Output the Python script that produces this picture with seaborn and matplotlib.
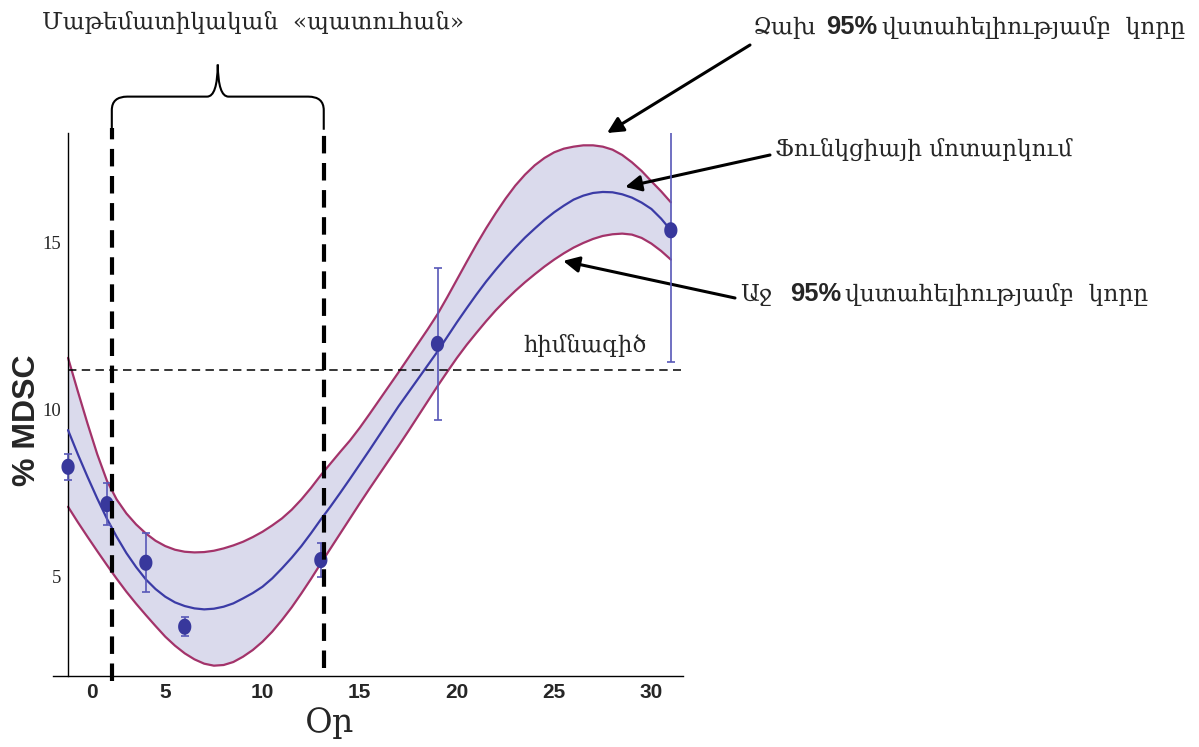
import matplotlib
matplotlib.use("Agg")
import matplotlib.pyplot as plt
import matplotlib.transforms as mtransforms
from matplotlib.path import Path
from matplotlib.patches import PathPatch
from matplotlib.ticker import MultipleLocator
import numpy as np
import pandas as pd
import seaborn as sns

# ---- measured data -------------------------------------------------------
days = [0, 2, 4, 6, 13, 19, 31]
mdsc_mean = [8.28, 7.16, 5.40, 3.48, 5.48, 11.97, 15.38]
mdsc_err = [0.39, 0.64, 0.89, 0.28, 0.51, 2.29, 3.96]

# ---- fitted curve and its 95% confidence limits (every half day) ---------
curve_day = [d / 2 for d in range(63)]
fit_curve = [9.38, 8.66, 7.98, 7.33, 6.72, 6.18, 5.69, 5.27, 4.90, 4.61,
             4.38, 4.21, 4.10, 4.03, 4.00, 4.02, 4.08, 4.18, 4.33, 4.49,
             4.68, 4.93, 5.23, 5.55, 5.90, 6.29, 6.70, 7.09, 7.50, 7.92,
             8.35, 8.78, 9.22, 9.66, 10.10, 10.51, 10.92, 11.33, 11.74, 12.18,
             12.62, 13.04, 13.45, 13.84, 14.20, 14.54, 14.86, 15.16, 15.43, 15.69,
             15.92, 16.12, 16.30, 16.42, 16.50, 16.53, 16.52, 16.46, 16.36, 16.21,
             16.02, 15.73, 15.38]
upper_curve = [11.55, 10.55, 9.58, 8.66, 7.86, 7.30, 6.88, 6.55, 6.28, 6.06,
               5.90, 5.79, 5.73, 5.71, 5.72, 5.76, 5.83, 5.92, 6.03, 6.17,
               6.33, 6.52, 6.73, 6.99, 7.30, 7.65, 8.03, 8.38, 8.73, 9.07,
               9.45, 9.86, 10.28, 10.70, 11.12, 11.55, 11.98, 12.41, 12.86, 13.37,
               13.90, 14.43, 14.95, 15.44, 15.90, 16.33, 16.72, 17.05, 17.33, 17.55,
               17.72, 17.83, 17.89, 17.93, 17.93, 17.89, 17.80, 17.64, 17.42, 17.16,
               16.85, 16.55, 16.22]
lower_curve = [7.08, 6.62, 6.18, 5.75, 5.33, 4.92, 4.53, 4.17, 3.83, 3.50,
               3.18, 2.91, 2.68, 2.50, 2.37, 2.31, 2.33, 2.42, 2.58, 2.78,
               3.03, 3.33, 3.68, 4.06, 4.48, 4.92, 5.38, 5.83, 6.28, 6.73,
               7.18, 7.62, 8.05, 8.48, 8.91, 9.35, 9.80, 10.25, 10.70, 11.13,
               11.55, 11.94, 12.30, 12.65, 12.98, 13.28, 13.56, 13.82, 14.06, 14.29,
               14.50, 14.69, 14.86, 15.00, 15.12, 15.21, 15.26, 15.28, 15.25, 15.15,
               14.98, 14.76, 14.50]

baseline = 11.18               # baseline MDSC level
window_days = [2.25, 13.15]    # limits of the "mathematical window"

x_ticks = [0, 5, 10, 15, 20, 25, 30]
y_ticks = [5, 10, 15]

title_text = "Մաթեմատիկական  «պատուհան»"
upper_label = ["Ձախ", "95%", "վստահելիությամբ  կորը"]
fit_label = "Ֆունկցիայի մոտարկում"
lower_label = ["Աջ", "95%", "վստահելիությամբ  կորը"]
baseline_label = "հիմնագիծ"
x_label = "Օր"
y_label = "% MDSC"

# ---- style ---------------------------------------------------------------
sns.set_style("white")
plt.rcParams["font.family"] = ["DejaVu Serif"]

band_fill = "#dadaec"
band_edge = "#a3336a"
fit_color = "#3b3ba6"
point_color = "#38389c"
err_color = "#5858b8"

W, H = 1199, 747
fig = plt.figure(figsize=(W / 100, H / 100), dpi=100)
ax = fig.add_axes([52.5 / W, 71 / H, 630 / W, 543 / H])
ax.set_xlim(-0.8, 31.6)
ax.set_ylim(2.0, 18.3)
renderer = fig.canvas.get_renderer()

ARM = dict(family=["DejaVu Serif Condensed", "DejaVu Serif"])
PCT = dict(family=["Liberation Sans"], fontweight="bold")


def fig_px(x, y):
    """Figure-fraction position from pixel offsets measured from the top-left."""
    return (x / W, 1 - y / H)


def size_for_width(s, target_px, props):
    """Font size at which string s spans target_px pixels."""
    t = fig.text(0, 0, s, fontsize=20, **props)
    w = t.get_window_extent(renderer).width
    t.remove()
    return 20 * target_px / w


def put(s, x, y_base, size, props):
    fig.text(*fig_px(x, y_base), s, ha="left", va="baseline",
             fontsize=size, **props)


curves = pd.DataFrame({"day": curve_day, "fit": fit_curve,
                       "upper": upper_curve, "lower": lower_curve})

# confidence band
ax.fill_between(curves["day"], curves["lower"], curves["upper"],
                color=band_fill, lw=0, zorder=1)
for col, colr in [("upper", band_edge), ("lower", band_edge), ("fit", fit_color)]:
    sns.lineplot(data=curves, x="day", y=col, color=colr, lw=1.6, ax=ax,
                 zorder=3 if col == "fit" else 2)

# baseline
ax.hlines(baseline, 0, 31.5, colors="black", lw=1.1,
          linestyles=(0, (5.5, 3.5)), zorder=4)

# measured points with error bars
ax.errorbar(days, mdsc_mean, yerr=mdsc_err, fmt="none", ecolor=err_color,
            elinewidth=1.2, capsize=3.0, capthick=1.2, zorder=5)
t = np.linspace(0, 2 * np.pi, 40)
ellipse = Path(np.column_stack([np.cos(t) * 0.82, np.sin(t)]))
pts = pd.DataFrame({"day": days, "mdsc": mdsc_mean})
sns.scatterplot(data=pts, x="day", y="mdsc", marker=ellipse, s=135,
                color=point_color, edgecolor="none", ax=ax, zorder=6)

# window limits
for wd, y0 in zip(window_days, [1.85, 2.25]):
    ax.plot([wd, wd], [y0, 18.45], color="black", lw=3.0,
            linestyle=(0, (4.2, 2.3)), clip_on=False, zorder=7)

# brace over the window
tr = mtransforms.blended_transform_factory(ax.transData, ax.transAxes)
xl, xr = window_days
xm = (xl + xr) / 2
y_end, y_bend, y_h, y_tip = 1.006, 1.042, 1.067, 1.126
verts = [(xl, y_end), (xl, y_bend), (xl, y_h), (xl + 0.8, y_h),
         (xm - 0.55, y_h), (xm - 0.02, y_h), (xm, y_tip),
         (xm + 0.02, y_h), (xm + 0.55, y_h),
         (xr - 0.8, y_h), (xr, y_h), (xr, y_bend), (xr, y_end)]
codes = [Path.MOVETO, Path.LINETO, Path.CURVE3, Path.CURVE3,
         Path.LINETO, Path.CURVE3, Path.CURVE3,
         Path.CURVE3, Path.CURVE3,
         Path.LINETO, Path.CURVE3, Path.CURVE3, Path.LINETO]
ax.add_patch(PathPatch(Path(verts, codes), transform=tr, fill=False,
                       edgecolor="black", lw=1.5, clip_on=False))

# axes in the crossing style
for side in ["top", "right"]:
    ax.spines[side].set_visible(False)
ax.spines["left"].set_position(("data", 0))
for side in ["left", "bottom"]:
    ax.spines[side].set_color("black")
    ax.spines[side].set_linewidth(1.0)

ax.set_xticks(x_ticks)
ax.set_yticks(y_ticks)
ax.xaxis.set_minor_locator(MultipleLocator(1))
ax.yaxis.set_minor_locator(MultipleLocator(1))
ax.tick_params(axis="both", which="major", direction="in", length=6,
               width=1.0, color="black")
ax.tick_params(axis="both", which="minor", direction="in", length=3.5,
               width=0.8, color="black")
ax.tick_params(axis="x", which="major", pad=5)
ax.tick_params(axis="y", which="major", pad=5)
ax.set_xticklabels([str(v) for v in x_ticks], family="Liberation Sans",
                   fontweight="bold", fontsize=15)
ax.set_yticklabels([str(v) for v in y_ticks], family="Liberation Serif",
                   fontsize=13.5)
# the zero label sits to the right of the vertical axis
zero_lab = ax.get_xticklabels()[0]
zero_lab.set_transform(zero_lab.get_transform() +
                       mtransforms.ScaledTranslation(0.24, 0, fig.dpi_scale_trans))

ax.set_xlabel(x_label, family="DejaVu Serif", fontsize=24)
ax.xaxis.set_label_coords(0.44, -0.058)
ax.set_ylabel(y_label, family="Liberation Sans", fontweight="bold",
              fontsize=23)
ax.yaxis.set_label_coords(-0.016, 0.471)

# ---- texts and arrows ----------------------------------------------------
put(title_text, 42, 29, size_for_width(title_text, 421, ARM), ARM)

arm_size = size_for_width(upper_label[2], 303, ARM)
pct_size = size_for_width(upper_label[1], 51, PCT)

for parts, xs, yb in [(upper_label, (753, 826, 882), 34),
                      (lower_label, (740, 790, 845), 301)]:
    put(parts[0], xs[0], yb, arm_size, ARM)
    put(parts[1], xs[1], yb, pct_size, PCT)
    put(parts[2], xs[2], yb, arm_size, ARM)

put(fit_label, 775, 156, size_for_width(fit_label, 297, ARM), ARM)
put(baseline_label, 523, 352, size_for_width(baseline_label, 123, ARM), ARM)

arrow = dict(arrowstyle="-|>", color="black", lw=2.2, mutation_scale=24,
             shrinkA=0, shrinkB=0)
for tip, tail in [((27.72, 18.3), (750, 45)),
                  ((28.65, 16.68), (770, 155)),
                  ((25.46, 14.46), (735, 298))]:
    ax.annotate("", xy=tip, xycoords="data",
                xytext=fig_px(*tail), textcoords="figure fraction",
                arrowprops=arrow, annotation_clip=False)

fig.savefig("out.png", dpi=100)
